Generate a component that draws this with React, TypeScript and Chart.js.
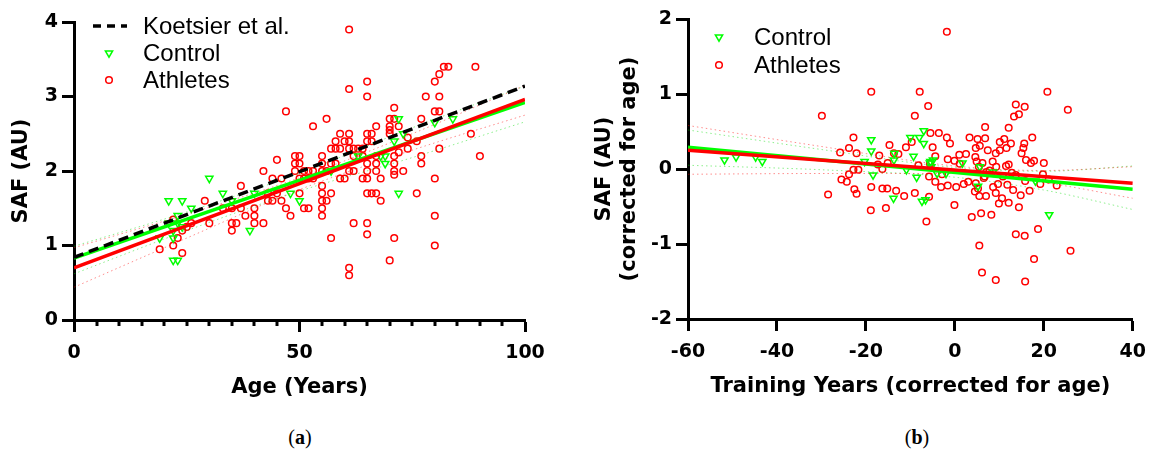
import React, { useEffect, useRef } from 'react';
import { Chart, registerables } from 'chart.js';

Chart.register(...registerables);

// ---------- Panel (a): SAF vs Age ----------
const athletesAge = [19,22,22,23,24,24,25,26,29,30,33,35,35,35,36,37,37,38,40,40,40,42,42,43,43,44,44,45,45,46,46,47,47,48,49,49,49,50,50,50,50,51,51,51,52,52,52,53,53,53,55,55,55,55,55,55,55,55,56,56,56,57,57,57,57,58,58,58,59,59,59,60,60,61,61,61,61,61,61,61,61,62,62,62,62,63,64,64,64,65,65,65,65,65,65,65,65,65,65,66,66,66,67,67,67,67,67,68,68,70,70,70,70,70,71,71,71,71,71,71,71,72,72,73,74,74,76,76,77,77,77,78,80,80,80,80,80,81,81,81,81,82,83,88,89,90];
const athletesSaf = [0.95,1.0,1.35,1.1,1.2,0.9,1.25,1.3,1.6,1.3,1.5,1.5,1.3,1.2,1.3,1.5,1.8,1.4,1.5,1.4,1.3,1.3,2.0,1.7,1.6,1.6,1.9,1.7,2.15,1.9,1.6,1.5,2.8,1.4,2.2,2.1,2.0,2.2,2.1,1.9,1.7,2.0,1.9,1.5,2.0,1.9,1.5,2.0,1.9,2.6,2.2,2.1,2.0,1.8,1.7,1.6,1.5,1.4,2.7,2.0,1.6,2.3,2.1,1.7,1.1,2.4,2.3,2.1,2.5,2.3,1.9,2.4,1.9,3.9,3.1,2.5,2.4,2.3,2.0,0.7,0.6,2.3,2.2,2.0,1.3,2.3,2.3,2.2,1.9,3.2,3.0,2.5,2.4,2.1,2.0,1.9,1.7,1.3,1.15,2.5,2.4,1.7,2.6,2.2,2.1,2.0,1.7,1.9,1.6,2.7,2.6,2.55,2.5,0.8,2.85,2.7,2.2,2.1,2.0,1.95,1.1,2.6,2.25,2.0,2.45,2.3,2.4,1.7,2.7,2.2,2.1,3.0,3.2,2.8,1.9,1.4,1.0,3.3,3.0,2.8,2.3,3.4,3.4,2.5,3.4,2.2];

const controlAge = [19,21,21,22,22,22,23,23,23,24,24,26,30,33,35,39,40,48,50,57,63,68,69,69,71,72,72,73,80,84];
const controlSaf = [1.1,1.6,1.3,1.2,1.1,0.8,0.8,1.4,1.3,1.6,1.25,1.5,1.9,1.7,1.6,1.2,1.7,1.7,1.6,2.0,2.2,2.2,2.2,2.1,2.4,2.7,1.7,2.5,2.65,2.7];

const fitAgeX = [0, 100];
const koetsierFit = [0.84, 3.14];
const athletesAgeFit = [0.70, 2.96];
const controlAgeFit = [0.83, 2.92];

const bandAgeX = [0, 25, 50, 75, 100];
const athletesAgeUpper = [0.97, 1.42, 1.91, 2.50, 3.15];
const athletesAgeLower = [0.44, 1.10, 1.75, 2.28, 2.75];
const controlAgeUpper = [0.99, 1.45, 1.97, 2.58, 3.14];
const controlAgeLower = [0.62, 1.20, 1.73, 2.18, 2.66];

// ---------- Panel (b): corrected SAF vs corrected training years ----------
const athletesTrain = [-29.9,-28.5,-25.8,-25.5,-24.3,-23.8,-23.8,-22.8,-22.8,-22.6,-22.1,-22.1,-21.7,-18.8,-18.8,-18.9,-17.3,-17,-16.3,-16.3,-15.5,-15.2,-15.1,-14.7,-13.7,-13.2,-12.7,-11.4,-11,-9.7,-9,-9,-8.2,-7.9,-6,-6.4,-5.8,-5.8,-5.6,-5.5,-5.0,-4.4,-4.4,-3.6,-3.1,-2.9,-1.8,-1.8,-1.6,-1.6,-1.1,-0.1,-0.1,0.3,1.0,1.1,2.0,2.5,3.0,3.3,3.8,4.5,4.6,4.7,4.7,4.9,5.1,5.2,5.4,5.5,5.5,5.6,5.9,6.1,6.2,6.5,6.7,6.8,6.8,7.0,7.1,7.4,7.8,8.2,8.5,8.6,9.2,9.2,9.2,9.3,9.7,9.9,10.1,10.1,10.6,10.8,11.1,11.5,11.6,11.8,12.1,12.1,12.1,12.6,12.8,13.1,13.3,13.7,13.7,13.7,14.4,14.4,14.8,15.0,15.4,15.6,15.7,15.7,15.8,15.8,16,16.8,17.1,17.4,17.8,17.8,18.7,19.2,19.8,20,20.8,21.1,22.9,25.4,26.0];
const athletesCorr = [0.71,-0.34,0.22,-0.14,-0.17,0.28,-0.07,0.42,-0.01,-0.27,0.21,-0.33,-0.01,1.03,-0.24,-0.55,0.06,0.18,0.0,-0.26,-0.52,-0.26,0.08,0.32,0.21,-0.29,0.2,-0.36,0.29,0.36,0.71,-0.32,0.05,1.03,0.84,-0.7,-0.37,-0.1,0.07,0.48,0.29,0.17,-0.17,0.48,-0.24,-0.07,1.83,0.42,0.13,-0.22,0.34,0.11,-0.48,-0.24,0.19,0.07,-0.2,0.2,-0.17,0.42,-0.64,-0.3,0.16,0.28,-0.19,0.1,0.4,-0.26,0.03,-0.36,-1.02,0.31,-0.59,-1.38,0.08,-0.12,-0.1,0.56,0.41,-0.36,-0.04,0.25,-0.02,-0.61,0.1,-0.24,0.21,-0.32,-1.48,0.03,-0.2,-0.46,0.36,0.25,-0.39,-0.1,0.4,0.04,0.28,-0.21,0.55,0.06,-0.45,0.34,-0.05,-0.28,0.7,0.86,-0.08,-0.87,0.73,-0.51,-0.35,0.21,0.28,0.34,0.83,-0.89,-0.16,-1.5,0.12,-0.29,0.08,0.42,0.11,-1.2,-0.8,-0.2,-0.07,0.08,1.03,-0.14,-0.22,0.79,-1.09];

const controlTrain = [-51.8,-49.2,-44.8,-43.3,-20.3,-18.8,-18.8,-18.4,-13.6,-13.7,-13.8,-10.9,-10,-9.3,-8.6,-8,-7,-7,-7.4,-6.6,-5.6,-5.3,-5.5,-4.9,-4.0,-2.0,1.7,5.2,5.6,8.6,18.1,21.2];
const controlCorr = [0.12,0.16,0.16,0.1,0.1,0.39,0.24,-0.08,0.21,0.12,-0.39,-0.01,0.42,0.17,-0.11,0.42,0.51,0.34,-0.43,-0.41,0.08,0.03,0.1,0.12,-0.06,-0.06,0.08,-0.23,0.03,-0.04,-0.16,-0.61];

const fitTrainX = [-60, 40];
const athletesTrainFit = [0.25, -0.19];
const controlTrainFit = [0.29, -0.27];

const bandTrainX = [-60, -30, 0, 20, 40];
const athletesTrainUpper = [0.58, 0.30, 0.04, -0.02, 0.03];
const athletesTrainLower = [-0.07, -0.06, -0.06, -0.18, -0.39];
const controlTrainUpper = [0.52, 0.26, 0.02, -0.03, 0.04];
const controlTrainLower = [0.05, -0.01, -0.11, -0.28, -0.54];

// ---------- styling ----------
const RED = '#ff0000';
const GREEN = '#00ff00';
const tickFont = { family: 'DejaVu Sans', weight: 'bold' as const, size: 19 };
const titleFont = { family: 'DejaVu Sans', weight: 'bold' as const, size: 21 };

const pts = (xs: number[], ys: number[]) => xs.map((x, i) => ({ x, y: ys[i] }));

const lineDs = (xs: number[], ys: number[], color: string, extra: any = {}) => ({
  type: 'scatter' as const,
  data: pts(xs, ys),
  showLine: true,
  borderColor: color,
  borderWidth: 3.5,
  pointRadius: 0,
  pointHoverRadius: 0,
  fill: false,
  ...extra,
});

const bandDs = (xs: number[], ys: number[], color: string) =>
  lineDs(xs, ys, color, { borderWidth: 1, borderDash: [1.5, 3], cubicInterpolationMode: 'monotone' });

const circleDs = (xs: number[], ys: number[]) => ({
  type: 'scatter' as const,
  data: pts(xs, ys),
  pointStyle: 'circle',
  pointRadius: 3.3,
  pointHoverRadius: 3.3,
  pointBorderColor: RED,
  pointBackgroundColor: 'rgba(0,0,0,0)',
  pointBorderWidth: 1.5,
  borderColor: RED,
  showLine: false,
});

const triangleDs = (xs: number[], ys: number[]) => ({
  type: 'scatter' as const,
  data: pts(xs, ys),
  pointStyle: 'triangle',
  pointRotation: 180,
  pointRadius: 4.2,
  pointHoverRadius: 4.2,
  pointBorderColor: GREEN,
  pointBackgroundColor: 'rgba(0,0,0,0)',
  pointBorderWidth: 1.5,
  borderColor: GREEN,
  showLine: false,
});

// Minor x ticks (every tick that is not a multiple of 50) for panel (a)
const MINOR_TICK_LEN = 6;
const MAJOR_EVERY = 50;
const minorTicksPlugin = {
  id: 'minorTicksA',
  afterDraw(chart: any) {
    const xs = chart.scales.x;
    const ctx = chart.ctx;
    const y0 = chart.chartArea.bottom;
    ctx.save();
    ctx.strokeStyle = '#000';
    ctx.lineWidth = 3;
    (xs.ticks || []).forEach((t: any) => {
      if (t.value % MAJOR_EVERY === 0) return;
      const px = Math.round(xs.getPixelForValue(t.value));
      ctx.beginPath();
      ctx.moveTo(px, y0);
      ctx.lineTo(px, y0 + MINOR_TICK_LEN);
      ctx.stroke();
    });
    ctx.restore();
  },
};

const legendPlugin = {
  id: 'customLegend',
  afterDraw(chart: any, _args: any, opts: any) {
    if (!opts || !opts.items) return;
    const ctx = chart.ctx;
    ctx.save();
    ctx.font = '24px "Liberation Sans", Arial, sans-serif';
    ctx.textBaseline = 'middle';
    ctx.fillStyle = '#000';
    opts.items.forEach((it: any, i: number) => {
      const y = opts.y + i * opts.gap;
      const x = opts.symbolX;
      ctx.save();
      if (it.kind === 'dash') {
        ctx.strokeStyle = it.color;
        ctx.lineWidth = 3.5;
        ctx.setLineDash([8, 6]);
        ctx.beginPath();
        ctx.moveTo(x - 16, y);
        ctx.lineTo(x + 18, y);
        ctx.stroke();
      } else if (it.kind === 'triangle') {
        const r = 4.2;
        ctx.strokeStyle = it.color;
        ctx.lineWidth = 1.5;
        ctx.beginPath();
        ctx.moveTo(x - r * 0.866, y - r * 0.5);
        ctx.lineTo(x + r * 0.866, y - r * 0.5);
        ctx.lineTo(x, y + r);
        ctx.closePath();
        ctx.stroke();
      } else {
        ctx.strokeStyle = it.color;
        ctx.lineWidth = 1.5;
        ctx.beginPath();
        ctx.arc(x, y, 3.3, 0, Math.PI * 2);
        ctx.stroke();
      }
      ctx.restore();
      ctx.fillText(it.label, opts.textX, y + 1);
    });
    ctx.restore();
  },
};

function axis(extra: any) {
  const { title, ticks, grid, ...rest } = extra;
  return {
    type: 'linear',
    border: { display: true, color: '#000', width: 3 },
    grid: {
      display: true,
      drawOnChartArea: false,
      drawTicks: true,
      tickLength: 12,
      tickWidth: 3,
      tickColor: '#000',
      ...(grid || {}),
    },
    ticks: { color: '#000', font: tickFont, padding: 4, autoSkip: false, maxRotation: 0, minRotation: 0, ...(ticks || {}) },
    title: { display: true, color: '#000', font: titleFont, ...(title || {}) },
    ...rest,
  };
}

function makeLeftConfig(): any {
  return {
    type: 'scatter',
    data: {
      datasets: [
        lineDs(fitAgeX, koetsierFit, '#000', { borderDash: [10, 6] }),
        lineDs(fitAgeX, athletesAgeFit, RED),
        lineDs(fitAgeX, controlAgeFit, GREEN),
        bandDs(bandAgeX, athletesAgeUpper, 'rgba(255,0,0,0.45)'),
        bandDs(bandAgeX, athletesAgeLower, 'rgba(255,0,0,0.45)'),
        bandDs(bandAgeX, controlAgeUpper, 'rgba(0,220,0,0.45)'),
        bandDs(bandAgeX, controlAgeLower, 'rgba(0,220,0,0.45)'),
        triangleDs(controlAge, controlSaf),
        circleDs(athletesAge, athletesSaf),
      ],
    },
    options: {
      animation: false,
      responsive: false,
      events: [],
      layout: { autoPadding: false, padding: { left: 0, right: 45, top: 22, bottom: 0 } },
      plugins: {
        legend: { display: false },
        tooltip: { enabled: false },
        customLegend: {
          symbolX: 109,
          textX: 143,
          y: 26,
          gap: 27,
          items: [
            { label: 'Koetsier et al.', kind: 'dash', color: '#000' },
            { label: 'Control', kind: 'triangle', color: GREEN },
            { label: 'Athletes', kind: 'circle', color: RED },
          ],
        },
      },
      scales: {
        x: axis({
          min: 0,
          max: 100,
          afterFit: (s: any) => { s.height = 90; },
          ticks: {
            stepSize: 5,
            padding: 10,
            callback: (v: any) => (Number(v) % 50 === 0 ? String(v) : ''),
          },
          grid: {
            tickColor: (c: any) => (c.tick && c.tick.value % 50 === 0 ? '#000' : 'rgba(0,0,0,0)'),
          },
          title: { text: 'Age (Years)', padding: { top: 0, bottom: 10 } },
        }),
        y: axis({
          min: 0,
          max: 4,
          afterFit: (s: any) => { s.width = 74; },
          ticks: { stepSize: 1 },
          title: { text: 'SAF (AU)', padding: { top: 9, bottom: 0 } },
        }),
      },
    },
    plugins: [minorTicksPlugin, legendPlugin],
  };
}

function makeRightConfig(): any {
  return {
    type: 'scatter',
    data: {
      datasets: [
        lineDs(fitTrainX, athletesTrainFit, RED),
        lineDs(fitTrainX, controlTrainFit, GREEN),
        bandDs(bandTrainX, athletesTrainUpper, 'rgba(255,0,0,0.45)'),
        bandDs(bandTrainX, athletesTrainLower, 'rgba(255,0,0,0.45)'),
        bandDs(bandTrainX, controlTrainUpper, 'rgba(0,220,0,0.45)'),
        bandDs(bandTrainX, controlTrainLower, 'rgba(0,220,0,0.45)'),
        triangleDs(controlTrain, controlCorr),
        circleDs(athletesTrain, athletesCorr),
      ],
    },
    options: {
      animation: false,
      responsive: false,
      events: [],
      layout: { autoPadding: false, padding: { left: 0, right: 17, top: 19, bottom: 0 } },
      plugins: {
        legend: { display: false },
        tooltip: { enabled: false },
        customLegend: {
          symbolX: 139,
          textX: 174,
          y: 37,
          gap: 28,
          items: [
            { label: 'Control', kind: 'triangle', color: GREEN },
            { label: 'Athletes', kind: 'circle', color: RED },
          ],
        },
      },
      scales: {
        x: axis({
          min: -60,
          max: 40,
          afterFit: (s: any) => { s.height = 91; },
          ticks: { stepSize: 20, padding: 10 },
          title: { text: 'Training Years (corrected for age)', padding: { top: 0, bottom: 11 } },
        }),
        y: axis({
          min: -2,
          max: 2,
          afterFit: (s: any) => { s.width = 108; },
          ticks: { stepSize: 1 },
          title: { text: ['SAF (AU)', '(corrected for age)'], padding: { top: 12, bottom: 0 } },
        }),
      },
    },
    plugins: [legendPlugin],
  };
}

function ChartCanvas({ make, left, width, height }: { make: () => any; left: number; width: number; height: number }) {
  const ref = useRef<HTMLCanvasElement | null>(null);
  useEffect(() => {
    if (!ref.current) return;
    const chart = new Chart(ref.current, make());
    return () => chart.destroy();
  }, [make]);
  return (
    <canvas
      ref={ref}
      width={width}
      height={height}
      style={{ position: 'absolute', left, top: 0, width, height }}
    />
  );
}

export default function App() {
  return (
    <div style={{ position: 'absolute', left: 0, top: 0, width: 1156, height: 456, background: '#fff', overflow: 'hidden' }}>
      <ChartCanvas make={makeLeftConfig} left={0} width={570} height={410} />
      <ChartCanvas make={makeRightConfig} left={580} width={576} height={410} />
      <div style={{ position: 'absolute', left: 250, top: 425, width: 100, textAlign: 'center', font: '20px "Liberation Serif", serif', lineHeight: '24px', color: '#000' }}>
        (<b>a</b>)
      </div>
      <div style={{ position: 'absolute', left: 867, top: 425, width: 100, textAlign: 'center', font: '20px "Liberation Serif", serif', lineHeight: '24px', color: '#000' }}>
        (<b>b</b>)
      </div>
    </div>
  );
}
